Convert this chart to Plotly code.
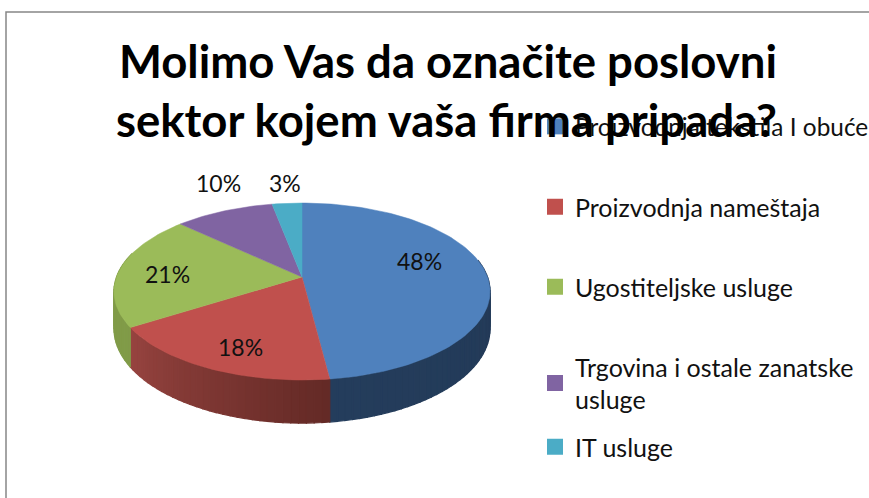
import math
import plotly.graph_objects as go

# ---- data ----
categories = ["Proizvodnja tekstila I obuće", "Proizvodnja nameštaja", "Ugostiteljske usluge",
              "Trgovina i ostale zanatske<br>usluge", "IT usluge"]
values = [48, 18, 21, 10, 3]
colors = ["#4F81BD", "#C0504D", "#9BBB59", "#8064A2", "#4BACC6"]
side_from = [(33, 54, 82), (100, 42, 38), (128, 155, 72), (100, 78, 128), (60, 135, 155)]
side_to = [(36, 61, 92), (152, 68, 64), (128, 155, 72), (100, 78, 128), (60, 135, 155)]
title_lines = ["Molimo Vas da označite poslovni", "sektor kojem vaša firma pripada?"]

# ---- style / geometry ----
W, H = 869, 498
CX, CY = 302, 277
A, B, K = 185.5, 86.1, 0.164
DEPTH = 36
FONT = "Lato"
label_pos = [(419, 261), (240, 347), (167, 274), (218, 183), (285, 183)]
legend_y = [126, 206, 286, 366, 446]
legend_sizes = [24.4, 25, 25, 25, 25]


def rim(theta_deg, r=1.0):
    t = math.radians(theta_deg)
    u, v = r * math.sin(t), r * math.cos(t)
    w = 1 + K * v
    return CX + A * u / w, CY - B * v / w, w


def lerp(c1, c2, f):
    return "rgb(%d,%d,%d)" % tuple(round(a + (b - a) * f) for a, b in zip(c1, c2))


fig = go.Figure()
total = sum(values)
spans, acc = [], 0.0
for v in values:
    spans.append((acc / total * 360, (acc + v) / total * 360))
    acc += v

# side wall, drawn from the same slices as narrow strips
for i, (a0, a1) in enumerate(spans):
    n = max(2, int((a1 - a0) / 2))
    for j in range(n):
        t0 = a0 + (a1 - a0) * j / n
        t1 = a0 + (a1 - a0) * (j + 1) / n
        if t1 < 80 or t0 > 285:
            continue
        x0, y0, w0 = rim(t0)
        x1, y1, w1 = rim(t1)
        c = lerp(side_from[i], side_to[i], j / n)
        fig.add_trace(go.Scatter(
            x=[x0, x1, x1, x0, x0],
            y=[y0, y1, y1 + DEPTH / w1, y0 + DEPTH / w0, y0],
            mode="lines", fill="toself", line=dict(width=1.2, color=c),
            fillcolor=c, hoverinfo="skip", showlegend=False))

# top face
for i, (a0, a1) in enumerate(spans):
    n = max(4, int((a1 - a0) / 1.5))
    pts = [rim(a0 + (a1 - a0) * j / n) for j in range(n + 1)]
    fig.add_trace(go.Scatter(
        x=[CX] + [p[0] for p in pts] + [CX],
        y=[CY] + [p[1] for p in pts] + [CY],
        mode="lines", fill="toself", line=dict(width=0.5, color=colors[i]), fillcolor=colors[i],
        name=categories[i], text=f"{values[i]}%", hoverinfo="text", showlegend=False))

# legend entries: one legend per row so the row spacing can follow the reference
layout_legends = {}
for i, name in enumerate(categories):
    key = "legend" if i == 0 else f"legend{i + 1}"
    fig.add_trace(go.Scatter(x=[None], y=[None], mode="markers", name=name, legend=key,
                             marker=dict(symbol="square", size=16, color=colors[i])))
    layout_legends[key] = dict(
        x=535 / W, y=1 - (legend_y[i] - 22) / H, xanchor="left", yanchor="top",
        bgcolor="rgba(0,0,0,0)", font=dict(family=FONT, size=legend_sizes[i], color="#111111"),
        itemclick=False, itemdoubleclick=False)

annotations = [dict(x=x, y=y, xref="x", yref="y", text=f"{v}%", showarrow=False,
                    font=dict(family=FONT, size=23, color="#111111"))
               for (x, y), v in zip(label_pos, values)]

fig.update_layout(
    width=W, height=H, margin=dict(l=0, r=0, t=0, b=0, autoexpand=False),
    paper_bgcolor="white", plot_bgcolor="white",
    xaxis=dict(range=[0, W], visible=False, fixedrange=True),
    yaxis=dict(range=[H, 0], visible=False, fixedrange=True),
    title=dict(text="<br>".join(title_lines), x=777 / W, xanchor="right", y=1 - 78 / H, yanchor="middle",
               font=dict(family=FONT, size=45.5, color="#000000", weight="bold")),
    annotations=annotations,
    shapes=[dict(type="path", xref="x", yref="y", path=f"M 6 {H} L 6 12 L {W} 12",
                 line=dict(color="#868686", width=1.5))],
    showlegend=True,
    **layout_legends,
)
fig.write_html("out.html", config=dict(displayModeBar=False),
               post_script="document.body.style.margin='0';")
